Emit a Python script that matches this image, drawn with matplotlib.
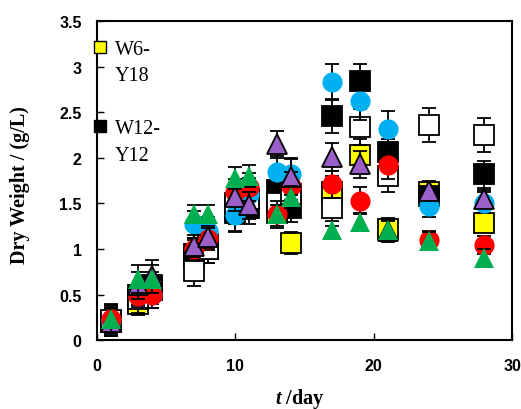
import matplotlib
matplotlib.use("Agg")
import matplotlib.pyplot as plt
from matplotlib.lines import Line2D

plt.rcParams['mathtext.fontset'] = 'custom'
plt.rcParams['mathtext.it'] = 'Liberation Serif:bold:italic'
plt.rcParams['mathtext.rm'] = 'Liberation Serif:bold'

days = [1, 3, 4, 7, 8, 10, 11, 13, 14, 17, 19, 21, 24, 28]

yellow_sq = [0.20, 0.40, 0.55, 0.90, 1.00, 1.45, 1.55, 1.40, 1.07, 1.62, 2.03, 1.22, 1.63, 1.29]
black_sq  = [0.20, 0.50, 0.60, 0.95, 1.05, 1.40, 1.45, 1.65, 1.45, 2.46, 2.84, 2.06, 1.58, 1.82]
white_sq  = [0.22, 0.45, 0.55, 0.76, 1.00, 1.50, 1.55, 1.50, 1.60, 1.45, 2.34, 1.80, 2.36, 2.25]
blue_ci   = [0.22, 0.50, 0.50, 1.27, 1.20, 1.37, 1.60, 1.84, 1.82, 2.83, 2.62, 2.32, 1.47, 1.51]
red_ci    = [0.23, 0.48, 0.50, 1.00, 1.11, 1.62, 1.68, 1.38, 1.69, 1.71, 1.53, 1.92, 1.10, 1.04]
purple_tr = [0.20, 0.60, 0.70, 1.03, 1.13, 1.57, 1.48, 2.15, 1.79, 2.01, 1.93, 1.20, 1.64, 1.55]
green_tr  = [0.23, 0.67, 0.67, 1.38, 1.38, 1.78, 1.80, 1.38, 1.57, 1.21, 1.30, 1.21, 1.09, 0.90]

yellow_err = [0.15, 0.12, 0.15, 0.15, 0.15, 0.18, 0.18, 0.15, 0.12, 0.18, 0.18, 0.12, 0.12, 0.10]
black_err  = [0.15, 0.12, 0.15, 0.15, 0.15, 0.20, 0.18, 0.18, 0.15, 0.19, 0.19, 0.15, 0.10, 0.15]
white_err  = [0.18, 0.15, 0.15, 0.17, 0.15, 0.18, 0.18, 0.15, 0.15, 0.20, 0.20, 0.18, 0.19, 0.19]
blue_err   = [0.15, 0.12, 0.15, 0.15, 0.15, 0.18, 0.18, 0.18, 0.18, 0.20, 0.20, 0.19, 0.12, 0.12]
red_err    = [0.15, 0.12, 0.15, 0.12, 0.12, 0.15, 0.15, 0.15, 0.15, 0.15, 0.15, 0.15, 0.10, 0.10]
purple_err = [0.15, 0.15, 0.18, 0.12, 0.12, 0.15, 0.15, 0.15, 0.20, 0.15, 0.15, 0.12, 0.10, 0.10]
green_err  = [0.15, 0.15, 0.15, 0.10, 0.10, 0.12, 0.12, 0.10, 0.12, 0.10, 0.10, 0.10, 0.10, 0.10]

legend_labels = ["W6-", "Y18", "W12-", "Y12"]
x_ticks = [0, 10, 20, 30]
y_ticks = [0, 0.5, 1, 1.5, 2, 2.5, 3, 3.5]
y_tick_labels = ["0", "0.5", "1", "1.5", "2", "2.5", "3", "3.5"]

series = [
    (yellow_sq, yellow_err, 's', '#FFFF00', 'black'),
    (black_sq, black_err, 's', '#000000', 'black'),
    (white_sq, white_err, 's', '#FFFFFF', 'black'),
    (blue_ci, blue_err, 'o', '#00B0F0', 'none'),
    (red_ci, red_err, 'o', '#FF0000', 'none'),
    (purple_tr, purple_err, '^', '#9B5FC8', 'black'),
    (green_tr, green_err, '^', '#00B050', 'none'),
]

fig = plt.figure(figsize=(5.21, 4.10), dpi=100)
ax = fig.add_axes([0.186, 0.168, 0.797, 0.778])

for i, (vals, err, mk, fc, ec) in enumerate(series):
    ax.errorbar(days, vals, yerr=err, fmt=mk, ms=14 if mk != 'o' else 14.5,
                mfc=fc, mec=ec, mew=1.3, ecolor='black', elinewidth=1.3,
                capsize=5, capthick=1.3, zorder=3 + i)

ax.set_xlim(0, 30)
ax.set_ylim(0, 3.5)
ax.set_xticks(x_ticks)
ax.set_yticks(y_ticks)
ax.set_yticklabels(y_tick_labels)
ax.tick_params(direction='in', length=5, width=1, labelsize=11.5)
for lab in ax.get_xticklabels() + ax.get_yticklabels():
    lab.set_fontweight('bold')
    lab.set_fontfamily('Liberation Sans')
ax.tick_params(axis='x', pad=13)
ax.tick_params(axis='y', pad=11)
for sp in ax.spines.values():
    sp.set_linewidth(1.5)

ax.set_ylabel("Dry Weight / (g/L)", fontfamily='Liberation Serif',
              fontweight='bold', fontsize=14.5)
ax.yaxis.set_label_coords(-0.162, 0.49)
ax.set_xlabel(r"$t$ /day", fontfamily='Liberation Serif',
              fontweight='bold', fontsize=14.5)
ax.xaxis.set_label_coords(0.489, -0.143)

blank = Line2D([], [], ls='none', marker='none')
h1 = Line2D([], [], ls='none', marker='s', ms=8, mfc='#FFFF00', mec='black', mew=1)
h2 = Line2D([], [], ls='none', marker='s', ms=8, mfc='#000000', mec='black', mew=1)
leg = ax.legend([h1, blank, blank, h2, blank],
                [legend_labels[0], legend_labels[1], "", legend_labels[2], legend_labels[3]],
                loc='upper left', bbox_to_anchor=(-0.012, 0.942), frameon=False,
                prop={'family': 'Liberation Serif', 'size': 14.5},
                handlelength=0.8, handletextpad=0.35, labelspacing=0.37,
                borderaxespad=0, borderpad=0)

fig.savefig("out.png", dpi=100)
